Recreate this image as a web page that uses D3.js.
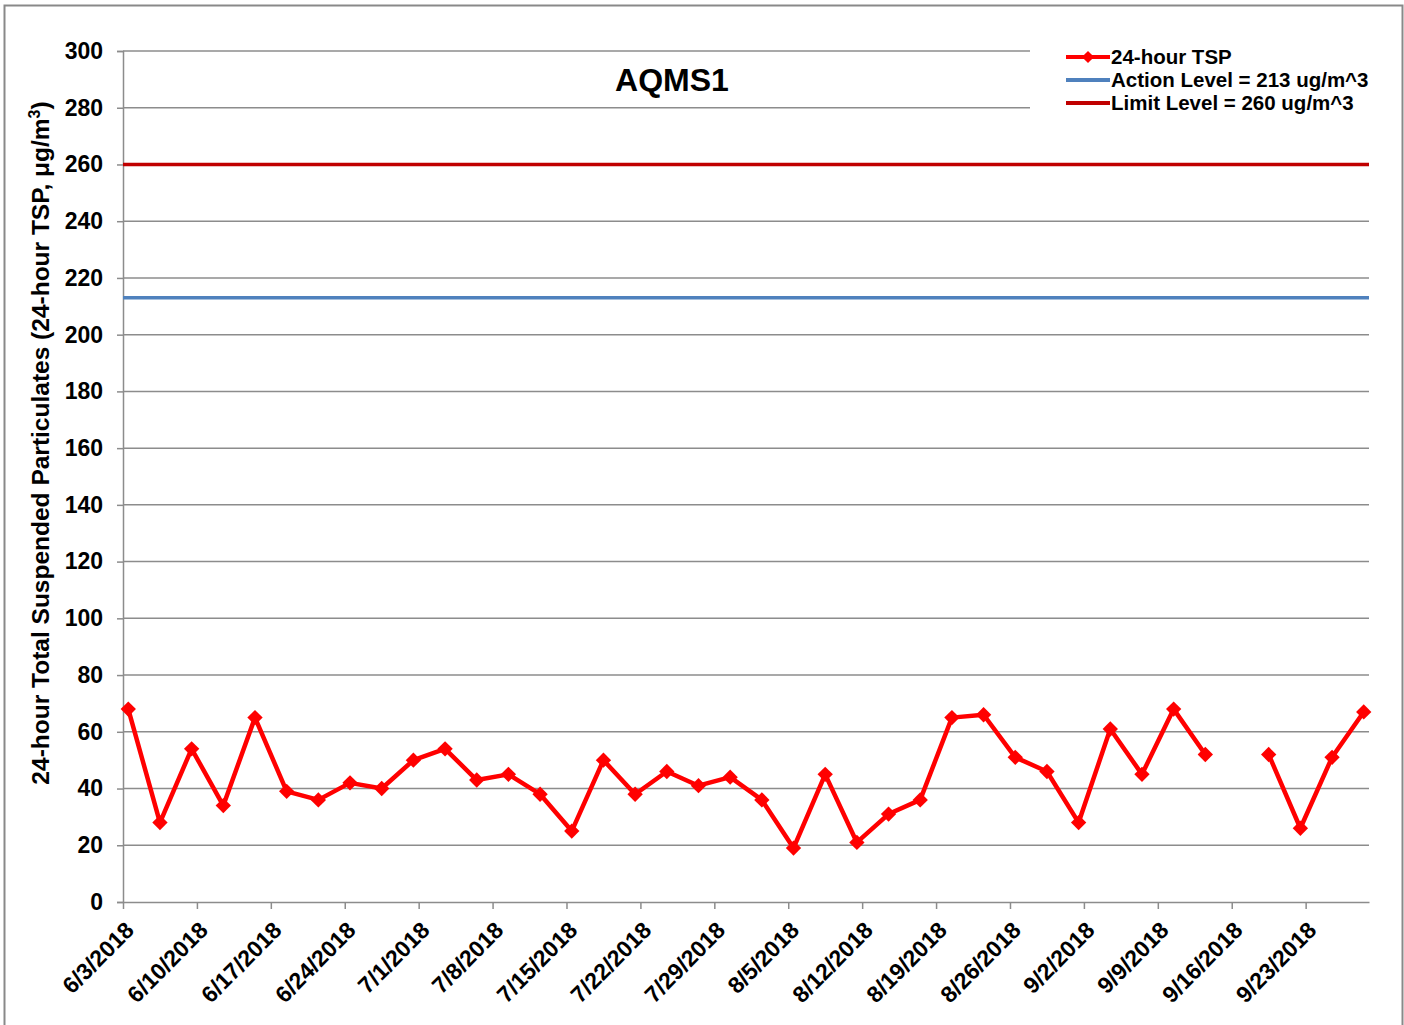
<!DOCTYPE html>
<html>
<head>
<meta charset="utf-8">
<script src="https://cdn.jsdelivr.net/npm/d3@7"></script>
<style>
  body { margin: 0; background: #fff; }
  svg { font-family: Arial, "Liberation Sans", sans-serif; font-weight: bold; }
</style>
</head>
<body>
<svg id="chart" width="1404" height="1025"></svg>
<script>
// sample dates (every 3 days), null = no reading
const dates = ["2018-06-03","2018-06-06","2018-06-09","2018-06-12","2018-06-15","2018-06-18","2018-06-21",
"2018-06-24","2018-06-27","2018-06-30","2018-07-03","2018-07-06","2018-07-09","2018-07-12","2018-07-15",
"2018-07-18","2018-07-21","2018-07-24","2018-07-27","2018-07-30","2018-08-02","2018-08-05","2018-08-08",
"2018-08-11","2018-08-14","2018-08-17","2018-08-20","2018-08-23","2018-08-26","2018-08-29","2018-09-01",
"2018-09-04","2018-09-07","2018-09-10","2018-09-13","2018-09-16","2018-09-19","2018-09-22","2018-09-25","2018-09-28"];
const tsp = [68,28,54,34,65,39,36,42,40,50,54,43,45,38,25,50,38,46,41,44,36,19,45,21,31,36,65,66,51,46,28,61,45,68,52,null,52,26,51,67];
const actionLevel = 213;
const limitLevel = 260;
const yTicks = [0,20,40,60,80,100,120,140,160,180,200,220,240,260,280,300];
const legendLabels = ["24-hour TSP","Action Level = 213 ug/m^3","Limit Level = 260 ug/m^3"];

const parseDay = d3.utcParse("%Y-%m-%d");
const fmt = d => (d.getUTCMonth()+1) + "/" + d.getUTCDate() + "/" + d.getUTCFullYear();
const font = "Arial, 'Liberation Sans', sans-serif";

const margin = { top: 51, left: 123, right: 35, bottom: 123 };
const width = 1404, height = 1025;
const svg = d3.select("#chart");

// outer border
svg.append("rect")
  .attr("x", 4.5).attr("y", 5.5).attr("width", 1398).attr("height", 1030)
  .attr("fill", "none").attr("stroke", "#898989").attr("stroke-width", 2);

const start = parseDay("2018-06-03");
const end = d3.utcDay.offset(parseDay("2018-09-28"), 1);
const x = d3.scaleUtc().domain([start, end]).range([margin.left, width - margin.right]);
const y = d3.scaleLinear().domain([0, 300]).range([height - margin.bottom, margin.top]);

// points sit in the middle of their day
const data = dates.map((d, i) => ({ date: d3.utcHour.offset(parseDay(d), 12), v: tsp[i] }));

// gridlines
svg.append("g").selectAll("line").data(yTicks.filter(t => t > 0)).join("line")
  .attr("x1", margin.left).attr("x2", width - margin.right)
  .attr("y1", d => y(d)).attr("y2", d => y(d))
  .attr("stroke", "#8c8c8c").attr("stroke-width", 1.5);

// y axis
const yAxis = svg.append("g")
  .attr("transform", `translate(${margin.left},0)`)
  .call(d3.axisLeft(y).tickValues(yTicks).tickSize(6).tickPadding(14));
yAxis.selectAll("text").attr("font-size", 23).attr("font-weight", "bold").attr("fill", "#000").attr("font-family", font);
yAxis.selectAll("line, path").attr("stroke", "#8c8c8c").attr("stroke-width", 1.5);

// x axis, weekly ticks
const xTickVals = d3.range(0, 17).map(i => d3.utcDay.offset(start, i * 7));
const xAxis = svg.append("g")
  .attr("transform", `translate(0,${height - margin.bottom})`)
  .call(d3.axisBottom(x).tickValues(xTickVals).tickFormat(fmt).tickSize(7).tickSizeOuter(0));
xAxis.selectAll("line, path").attr("stroke", "#8c8c8c").attr("stroke-width", 1.5);
xAxis.selectAll("text")
  .attr("font-size", 23).attr("font-weight", "bold").attr("fill", "#000")
  .attr("font-family", font)
  .attr("text-anchor", "end")
  .attr("dy", "0.35em")
  .attr("transform", "translate(-1,17) rotate(-45)");

// legend background
svg.append("rect").attr("x", 1030).attr("y", 40).attr("width", 345).attr("height", 76).attr("fill", "#fff");

// level lines
svg.append("line")
  .attr("x1", margin.left).attr("x2", width - margin.right)
  .attr("y1", y(actionLevel)).attr("y2", y(actionLevel))
  .attr("stroke", "#4f81bd").attr("stroke-width", 3.5);
svg.append("line")
  .attr("x1", margin.left).attr("x2", width - margin.right)
  .attr("y1", y(limitLevel)).attr("y2", y(limitLevel))
  .attr("stroke", "#c00000").attr("stroke-width", 3.5);

// series
const line = d3.line().defined(d => d.v !== null).x(d => x(d.date)).y(d => y(d.v));
svg.append("path").datum(data)
  .attr("fill", "none").attr("stroke", "#ff0000").attr("stroke-width", 4.5)
  .attr("stroke-linejoin", "round").attr("d", line);

const diamond = d3.symbol().type(d3.symbolDiamond2).size(150);
svg.append("g").selectAll("path").data(data.filter(d => d.v !== null)).join("path")
  .attr("d", diamond)
  .attr("transform", d => `translate(${x(d.date)},${y(d.v)})`)
  .attr("fill", "#ff0000");

// title
svg.append("text").attr("x", 672).attr("y", 91).attr("text-anchor", "middle")
  .attr("font-size", 32).text("AQMS1");

// y label
svg.append("text")
  .attr("transform", "translate(49,443) rotate(-90)")
  .attr("text-anchor", "middle").attr("font-size", 24.5)
  .text("24-hour Total Suspended Particulates (24-hour TSP, μg/m")
  .append("tspan").attr("font-size", 16).attr("dy", -9).text("3")
  .clone().attr("font-size", 24.5).attr("dy", 9).text(")");

// legend
const legColors = ["#ff0000", "#4f81bd", "#c00000"];
const leg = svg.append("g").selectAll("g").data(legendLabels).join("g")
  .attr("transform", (d, i) => `translate(1066,${57 + i * 23})`);
leg.append("line").attr("x1", 0).attr("x2", 44).attr("stroke", (d, i) => legColors[i]).attr("stroke-width", 4);
leg.filter((d, i) => i === 0).append("path").attr("d", d3.symbol().type(d3.symbolDiamond2).size(95)).attr("transform", "translate(22,0)").attr("fill", "#ff0000");
leg.append("text").attr("x", 45).attr("dy", "0.35em").attr("font-size", 20.5).text(d => d);
</script>
</body>
</html>
